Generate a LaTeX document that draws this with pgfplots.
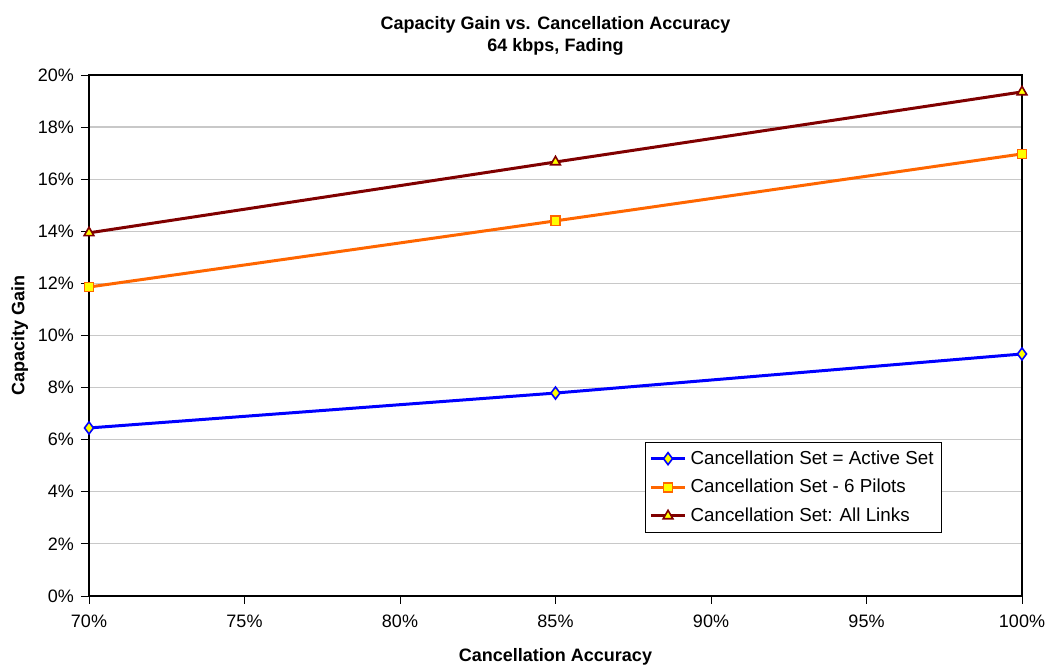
\documentclass[border=0pt]{standalone}
\usepackage{pgfplots}
\pgfplotsset{compat=1.18}
\usepackage{fontspec}
\setmainfont{Liberation Sans}
\setsansfont{Liberation Sans}

\definecolor{cblue}{RGB}{0,0,255}
\definecolor{corange}{RGB}{255,102,0}
\definecolor{cdred}{RGB}{128,0,0}
\definecolor{cyel}{RGB}{255,255,0}
\definecolor{cgrid}{RGB}{200,200,200}

\begin{document}
\begin{tikzpicture}
\begin{axis}[
    scale only axis,
    width=466.5pt, height=260.5pt,
    xmin=70, xmax=100, ymin=0, ymax=20,
    xtick={70,75,...,100},
    ytick={0,2,...,20},
    xticklabels={70\%,75\%,80\%,85\%,90\%,95\%,100\%},
    yticklabels={0\%,2\%,4\%,6\%,8\%,10\%,12\%,14\%,16\%,18\%,20\%},
    tick align=outside,
    tick style={black, thin},
    major tick length=4pt,
    xtick pos=bottom, ytick pos=left,
    ymajorgrids,
    grid style={cgrid, line width=0.6pt},
    axis line style={black, line width=0.6pt},
    ticklabel style={font=\fontsize{9}{10}\selectfont},
    xticklabel style={yshift=-2pt},
    title style={font=\bfseries\fontsize{9}{11}\selectfont, align=center, yshift=0.5pt},
    title={Capacity Gain vs. Cancellation Accuracy\\64 kbps, Fading},
    xlabel={Cancellation Accuracy},
    ylabel={Capacity Gain},
    label style={font=\bfseries\fontsize{9}{10}\selectfont},
    xlabel style={yshift=-3.5pt},
    ylabel style={yshift=-2pt},
    legend style={at={(0.596,0.2956)}, anchor=north west, draw=black,
        fill=white, font=\fontsize{9.4}{10}\selectfont, row sep=2pt,
        inner sep=2pt},
    legend cell align=left,
    legend image code/.code={
        \draw[mark repeat=2,mark phase=2] plot coordinates {(0cm,0cm) (0.3cm,0cm) (0.6cm,0cm)};},
]
\addplot[cblue, line width=1.5pt, mark=diamond*, mark size=3pt,
    mark options={fill=cyel, draw=cblue, line width=0.8pt}]
    coordinates {(70,6.45) (85,7.79) (100,9.29)};
\addlegendentry{Cancellation Set = Active Set}
\addplot[corange, line width=1.5pt, mark=square*, mark size=2.3pt,
    mark options={fill=cyel, draw=corange, line width=0.8pt}]
    coordinates {(70,11.86) (85,14.40) (100,16.97)};
\addlegendentry{Cancellation Set - 6 Pilots}
\addplot[cdred, line width=1.5pt, mark=triangle*, mark size=2.8pt,
    mark options={fill=cyel, draw=cdred, line width=0.8pt}]
    coordinates {(70,13.94) (85,16.66) (100,19.35)};
\addlegendentry{Cancellation Set:  All Links}
\end{axis}
\pgfresetboundingbox
\path (current axis.south west) ++(-44.5pt,-35pt) coordinate (bl);
\path (current axis.north east) ++(13.5pt,37.5pt) coordinate (tr);
\useasboundingbox (bl) rectangle (tr);
\end{tikzpicture}
\end{document}
